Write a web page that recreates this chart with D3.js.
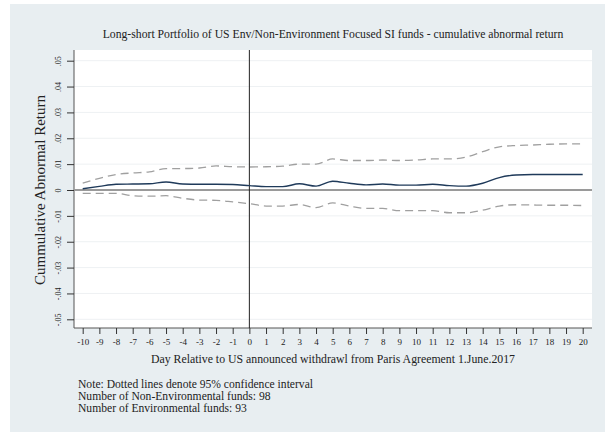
<!DOCTYPE html>
<html>
<head>
<meta charset="utf-8">
<script src="https://cdn.jsdelivr.net/npm/d3@7"></script>
<style>
  html, body { margin: 0; padding: 0; background: #ffffff; }
  svg { display: block; }
  svg text { font-family: "Liberation Serif", "DejaVu Serif", serif; fill: #222; }
</style>
</head>
<body>
<script>
// Event window: days relative to 1 June 2017
const days = d3.range(-10, 21);

// Cumulative abnormal return of the long-short portfolio
const car = [0.0005, 0.0014, 0.0022, 0.0023, 0.0024, 0.0031, 0.0023, 0.0022, 0.0022, 0.0021,
             0.0017, 0.0013, 0.0013, 0.0024, 0.0015, 0.0034, 0.0026, 0.0020, 0.0023, 0.0019,
             0.0019, 0.0022, 0.0017, 0.0015, 0.0026, 0.0048, 0.0058, 0.0060, 0.0060, 0.0060, 0.0060];

// 95% confidence bounds
const upper = [0.0027, 0.0045, 0.0060, 0.0066, 0.0070, 0.0083, 0.0083, 0.0085, 0.0093, 0.0090,
               0.0089, 0.0090, 0.0092, 0.0100, 0.0100, 0.0120, 0.0114, 0.0114, 0.0116, 0.0114,
               0.0116, 0.0120, 0.0120, 0.0127, 0.0148, 0.0167, 0.0172, 0.0174, 0.0177, 0.0178, 0.0178];
const lower = [-0.0013, -0.0013, -0.0013, -0.0022, -0.0024, -0.0022, -0.0032, -0.0039, -0.0040, -0.0046,
               -0.0053, -0.0062, -0.0062, -0.0056, -0.0068, -0.0050, -0.0062, -0.0071, -0.0071, -0.0080,
               -0.0080, -0.0080, -0.0088, -0.0088, -0.0078, -0.0062, -0.0057, -0.0058, -0.0059, -0.0059, -0.0060];

const yTicks = [-0.05, -0.04, -0.03, -0.02, -0.01, 0, 0.01, 0.02, 0.03, 0.04, 0.05];
const yTickLabels = ["-.05", "-.04", "-.03", "-.02", "-.01", "0", ".01", ".02", ".03", ".04", ".05"];

const titleText = "Long-short Portfolio of US Env/Non-Environment Focused SI funds - cumulative abnormal return";
const yTitle = "Cummulative Abnormal Return";
const xTitle = "Day Relative to US announced withdrawl from Paris Agreement 1.June.2017";
const notes = [
  "Note: Dotted lines denote 95% confidence interval",
  "Number of Non-Environmental funds: 98",
  "Number of Environmental funds: 93"
];

const W = 605, H = 432;
const plot = { left: 74, right: 592, top: 50, bottom: 328 };

const svg = d3.select("body").append("svg").attr("width", W).attr("height", H);

// outer graph region
svg.append("rect").attr("x", 10).attr("y", 4).attr("width", W - 10).attr("height", H - 4)
  .attr("fill", "#e8eef1");
// plot region
svg.append("rect").attr("x", plot.left).attr("y", plot.top)
  .attr("width", plot.right - plot.left).attr("height", plot.bottom - plot.top)
  .attr("fill", "#ffffff");

const x = d3.scaleLinear().domain([-10, 20]).range([82.7, 582.7]);
const y = d3.scaleLinear().domain([-0.05, 0.05]).range([319.3, 60.7]);

// horizontal grid
svg.append("g").selectAll("line").data(yTicks.filter(v => v !== 0)).join("line")
  .attr("x1", plot.left).attr("x2", plot.right)
  .attr("y1", d => y(d)).attr("y2", d => y(d))
  .attr("stroke", "#eef1f3").attr("stroke-width", 1);

// y axis
const yAxis = d3.axisLeft(y).tickValues(yTicks)
  .tickFormat((d, i) => yTickLabels[i]).tickSize(7).tickPadding(3);
const gy = svg.append("g").attr("transform", `translate(${plot.left},0)`).call(yAxis);
gy.select(".domain").attr("d", `M0,${plot.top}V${plot.bottom}`).attr("stroke", "#555");
gy.selectAll(".tick line").attr("stroke", "#333");
gy.selectAll(".tick text")
  .attr("font-size", 8).attr("fill", "#333")
  .attr("text-anchor", "middle")
  .attr("x", null)
  .attr("transform", "translate(-16,0) rotate(-90)")
  .attr("y", 0).attr("dy", "0.35em");

// x axis
const xAxis = d3.axisBottom(x).tickValues(days).tickFormat(d => String(d)).tickSize(6).tickPadding(5);
const gx = svg.append("g").attr("transform", `translate(0,${plot.bottom})`).call(xAxis);
gx.select(".domain").attr("d", `M${plot.left},0H${plot.right}`).attr("stroke", "#555");
gx.selectAll(".tick line").attr("stroke", "#333");
gx.selectAll(".tick text").attr("font-size", 9).attr("fill", "#333");

// reference lines
svg.append("line").attr("x1", plot.left).attr("x2", plot.right)
  .attr("y1", y(0)).attr("y2", y(0)).attr("stroke", "#9a9a9a").attr("stroke-width", 2);
svg.append("line").attr("x1", x(0)).attr("x2", x(0))
  .attr("y1", plot.top).attr("y2", plot.bottom).attr("stroke", "#222").attr("stroke-width", 1);

// confidence bounds and CAR line
const line = vals => d3.line().x((d, i) => x(days[i])).y(d => y(d)).curve(d3.curveMonotoneX)(vals);
[upper, lower].forEach(v => {
  svg.append("path").attr("d", line(v)).attr("fill", "none")
    .attr("stroke", "#a0a0a0").attr("stroke-width", 1.3).attr("stroke-dasharray", "8,5");
});
svg.append("path").attr("d", line(car)).attr("fill", "none")
  .attr("stroke", "#1f3a5a").attr("stroke-width", 1.4);

// titles
svg.append("text").attr("x", 333).attr("y", 38).attr("text-anchor", "middle")
  .attr("font-size", 11.7).attr("fill", "#333").text(titleText);
svg.append("text").attr("transform", `translate(45,${(plot.top + plot.bottom) / 2 + 1}) rotate(-90)`)
  .attr("text-anchor", "middle").attr("font-size", 15).attr("fill", "#222").text(yTitle);
svg.append("text").attr("x", 333).attr("y", 363).attr("text-anchor", "middle")
  .attr("font-size", 11.8).attr("fill", "#222").text(xTitle);

svg.append("g").selectAll("text").data(notes).join("text")
  .attr("x", 78).attr("y", (d, i) => 388 + i * 12.2)
  .attr("font-size", 11.6).attr("fill", "#222").text(d => d);
</script>
</body>
</html>
